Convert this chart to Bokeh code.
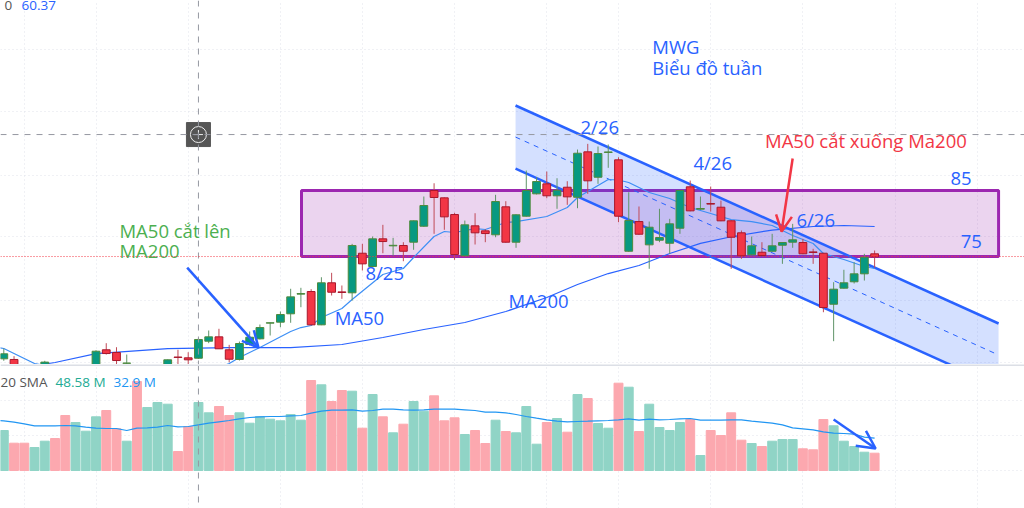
from bokeh.plotting import figure
from bokeh.layouts import column
from bokeh.models import ColumnDataSource, FixedTicker, Span, Arrow, OpenHead, Range1d
from bokeh.core.properties import value
from bokeh.embed import file_html
from bokeh.resources import INLINE

nan = float("nan")
FONT = "Open Sans"

# weekly candles, bar 0..85; nan = below the visible pane
opens = [59.5,59.4,nan,nan,57.8,nan,nan,nan,nan,58.5,60.87,60.46,58.83,nan,nan,nan,58.3,59.77,59.65,59.59,
 62.17,62.83,60.87,59.4,61.67,62.53,64.91,65.05,66.32,69.30,69.7,64.65,71.02,69.64,69.5,75.5,73.49,77.68,76.62,76.67,
 77.17,79.59,85,83.89,81.36,75.11,79.65,78.89,78.29,82.53,77.17,81.11,84.5,86.01,84.2,85.5,83.98,90.86,87.01,90.76,
 89.65,75.8,80.3,76.77,77.47,77.01,79.29,85.56,82.18,83.03,82.47,80.41,78.59,75.26,75.65,75.8,76.71,77.17,77.12,75.7,
 75.5,67.77,70.2,71.17,72.38,75.41]
highs = [61.06,59.9,nan,nan,59.2,nan,nan,nan,nan,60.8,61.87,61.26,60.15,nan,nan,nan,59.4,60.87,60.5,62.68,
 63.79,64.05,61.62,62.12,63.64,64.7,64.98,66.67,70.11,70.26,70.05,71.86,72.53,70.61,76.92,76.92,78.03,79.8,77.83,77.17,
 80.45,84.09,86.1,83.95,81.62,80.45,81.56,79.14,84.35,83.38,81.4,88.03,87.01,87.88,86.86,86.41,91.21,92.07,91.67,91.97,
 90.04,84.74,82.58,80.3,82.23,80.71,85.1,86.51,84.09,85.6,83.48,80.5,78.94,78.03,77.17,78.44,77.2,79.95,77.68,76.17,
 75.55,71.11,72.99,74.14,75.41,75.91]
lows = [59.2,58.0,nan,nan,57.5,nan,nan,nan,nan,58.3,60.15,58.7,58.7,nan,nan,nan,58,58.7,58.7,59.5,
 61.87,61.0,58.99,59.24,61.52,62.43,63.03,64.29,64.96,67.32,64.6,64.6,69.09,68.59,68.33,72.88,73.4,75.5,75.15,74.29,
 76.02,79.5,78.44,79.05,74.5,75.05,76.82,77.17,77.92,77.1,76.32,81.05,84.4,83.83,82.23,82.83,82.32,84.5,86.01,88.44,
 80.2,75.7,78.3,73.14,77.17,75.41,78.44,81.85,82.08,81.82,80.35,73.14,74.65,75.2,75.1,75.75,73.89,76.32,75.35,73.89,
 66.56,62.17,70.15,70.91,71.36,73.29]
closes = [60.26,58.33,nan,nan,59.0,nan,nan,nan,nan,60.65,60.3,59.24,58.85,nan,nan,nan,59.35,59.71,59.35,62.43,
 62.83,61.02,59.44,61.82,62.77,64.24,64.96,66.21,68.89,69.39,64.65,71.02,69.59,69.55,76.67,73.89,77.68,77.27,76.7,75.8,
 80.41,82.73,83.94,81.01,75.3,79.8,78.59,78.48,83.33,77.17,81.32,85,86.36,84.2,85.04,84.04,90.65,86.47,90.6,90.85,
 81.11,80.45,78.38,79.44,77.88,79.95,85,81.92,82.27,82.94,80.41,77.92,75.11,76.62,75.15,76.62,77.12,77.53,75.41,75.61,
 67.27,70.05,71.02,72.38,74.89,74.95]

ma50_bar = [-1,0,3,5,21,22,23,25,28,29,30,31,33,34,37,39,40,42,43,44,46,47,49,50,53,55,56,58,59,60,61,63,65,67,69,71,73,75,77,79,80,82,84,85]
ma50_val = [61.36,61.06,58.79,58.18,58.18,58.79,59.7,61.21,63.64,64.24,64.55,65.76,67.12,68.49,72.27,73.18,74.85,78.03,78.79,78.64,79.24,79.09,80.15,80.3,81.06,82.42,83.94,85.76,86.67,86.59,86.21,84.7,83.79,82.42,81.52,80.6,80.3,79.7,78.18,76.97,75.45,74.55,73.49,73.18]
ma200_bar = [4,5,9,16,22,28,33,37,41,45,49,53,56,59,62,65,68,71,75,79,82,85]
ma200_val = [58.72,58.94,60.3,61.06,61.21,61.21,61.67,62.73,63.94,65,66.67,68.79,70.76,72.42,73.64,75.45,77,78,79.01,79.55,79.7,79.55]

volume = [40,27.3,27.3,23,29.3,32,55,48,39.3,53.7,60,41.7,29.3,89,63,68,66.3,19,44,68,
 57.7,64,55,57.7,47.3,53.7,51.3,49.7,56,50.3,90,85.7,69,80,79.3,42.3,76,53.7,37.7,46.3,
 69,59.3,74.7,49.7,52.7,36,40,27,50.3,39,37.7,64,26.3,48,52,38.3,76,72,47,42.3,
 87.3,83.3,39,66.3,43,40,48,51,15,40,35,57.7,30.3,27,24,29.3,31,31,21.7,20.7,
 51,44.7,29.3,24,18.3,17.3]
vol_dir = "grrggrrgggrrgrgggrrggrrgggggggrgrrgrgrgrggrrrgrrgrgggrgrgrggrgrggggrgrrrrgrgggrrrggggr"
vol_sma_bar = list(range(-1, 86))
vol_sma = [50.3,49.7,48.3,46.7,44.7,44.7,44.7,45,44.7,43.3,42.3,42,42,40,42.3,42.7,43.3,45,43.7,44,45.7,
 47.3,48.7,50,51.7,53,53.7,54,54,54.7,55,57.3,59.3,60.3,60.3,60.7,59.3,60,61.3,61.3,60.7,
 60.3,60.7,61.3,61.3,61.3,60.7,60,58.3,58.3,57.7,56,54,52.3,50.7,49.3,48.7,49,49.3,49.7,50,
 50.7,51.7,50.3,51.3,50.7,51,51.7,52,50.3,50.3,50.3,50.7,50.7,49.3,48.3,47.3,45.7,42.7,41.7,40.7,
 38.7,37.3,37,36.3,33.3,32.3]

grid_bars = [2,9,18,27,35,44,53,60,69,78,87,95]
grid_prices = [106.4,97.0,87.3,78.0,68.4,58.9]
grid_vol = [0,35,70]

label_text = ["MWG","Biểu đồ tuần","MA50 cắt lên","MA200","MA50 cắt xuống Ma200","8/25","MA50","MA200","2/26","4/26","6/26","85","75"]
label_x = [63.3,63.3,11.29,11.29,74.3,35.3,32.3,49.26,56.29,67.32,77.37,92.4,93.4]
label_y = [106.8,103.7,78.94,75.9,92.57,72.57,65.75,68.33,94.75,89.29,80.65,86.87,77.32]
label_color = ["#2962ff","#2962ff","#4caf50","#4caf50","#f23645"]+["#2962ff"]*8

header_text = ["0", "60.37"]
header_x = [0.07, 1.73]
header_y = [113.03, 113.03]
header_color = ["#555555", "#2962ff"]

zone_left, zone_right, zone_top, zone_bottom = 29.06, 97.1, 85, 75
chan_x = [49.95, 97.1]
chan_upper = [97.88, 64.85]
chan_mid = [93.1, 60.08]
chan_lower = [88.33, 55.3]

GREEN, RED = "#089981", "#f23645"
GREEN_EDGE, RED_EDGE = "#4f8a3c", "#a8182c"
GRID = "#e0e3eb"
XR = (-0.322, 99.63)

def base(h, yr):
    f = figure(width=1024, height=h, x_range=Range1d(*XR), y_range=Range1d(*yr),
               output_backend="svg", toolbar_location=None, min_border=0,
               outline_line_color=None, background_fill_color="white")
    f.xaxis.visible = False
    f.yaxis.visible = False
    for g in f.xgrid:
        g.ticker = FixedTicker(ticks=grid_bars)
        g.grid_line_color = GRID
        g.grid_line_dash = "1 3"
    return f

p = base(364, (58.64, 113.79))
p.ygrid[0].ticker = FixedTicker(ticks=grid_prices)
p.ygrid[0].grid_line_color = GRID
p.ygrid[0].grid_line_dash = "1 3"

p.add_layout(Span(location=93.48, dimension="width", line_color="#9598a1", line_dash="6 6", line_width=1))
p.add_layout(Span(location=19, dimension="height", line_color="#9598a1", line_dash="6 6", line_width=1))
p.add_layout(Span(location=75, dimension="width", line_color=RED, line_dash="1 2", line_width=1))

# purple zone
p.quad(left=[zone_left], right=[zone_right], top=[zone_top], bottom=[zone_bottom],
       fill_color="#9c27b0", fill_alpha=0.2, line_color="#9c27b0", line_width=3)

# channel
p.varea(x=chan_x, y1=chan_lower, y2=chan_upper, fill_color="#2962ff", fill_alpha=0.2)
p.line(chan_x, chan_upper, line_color="#2962ff", line_width=2.5)
p.line(chan_x, chan_lower, line_color="#2962ff", line_width=2.5)
p.line(chan_x, chan_mid, line_color="#2962ff", line_width=1, line_dash="5 5")

# moving averages
p.line(ma50_bar, ma50_val, line_color="#3d8ff5", line_width=1.2)
p.line(ma200_bar, ma200_val, line_color="#2962ff", line_width=1.2)

# candles
bars = list(range(len(opens)))
up = [c >= o for o, c in zip(opens, closes)]
src = ColumnDataSource(dict(
    x=bars, o=opens, h=highs, l=lows, c=closes,
    fill=[GREEN if u else RED for u in up],
    edge=[GREEN_EDGE if u else RED_EDGE for u in up],
    wick=["#5f9468" if u else "#c04a57" for u in up]))
p.segment("x", "h", "x", "l", color="wick", line_width=1, source=src)
p.vbar("x", 0.76, "o", "c", fill_color="fill", line_color="edge", line_width=1, source=src)

# annotations
p.add_layout(Arrow(end=OpenHead(size=16, line_color="#2962ff", line_width=2.5),
                   x_start=17.9, y_start=73.33, x_end=24.86, y_end=61.21,
                   line_color="#2962ff", line_width=2.5))
p.add_layout(Arrow(end=OpenHead(size=16, line_color=RED, line_width=2.5),
                   x_start=77, y_start=89.85, x_end=75.92, y_end=78.79,
                   line_color=RED, line_width=2.5))

p.text(label_x, label_y, text=label_text, text_color=label_color, text_font=value(FONT),
       text_font_size="18.5px", text_baseline="middle", text_align="left")
p.text(header_x, header_y, text=header_text, text_color=header_color, text_font=value(FONT),
       text_font_size="13.5px", text_baseline="alphabetic", text_align="left")

# crosshair marker
p.rect([19], [93.48], width=24, height=24, width_units="screen", height_units="screen",
       fill_color="#555555", line_color="#555555")
p.scatter([19], [93.48], marker="circle", size=16, fill_alpha=0, line_color="#eeeeee", line_width=1)
p.scatter([19], [93.48], marker="cross", size=9, line_color="#eeeeee", line_width=1)

# volume pane
v = base(144, (-38, 106))
v.ygrid[0].ticker = FixedTicker(ticks=grid_vol)
v.ygrid[0].grid_line_color = GRID
v.ygrid[0].grid_line_dash = "1 3"
v.add_layout(Span(location=19, dimension="height", line_color="#9598a1", line_dash="6 6", line_width=1))
v.add_layout(Span(location=105.5, dimension="width", line_color="#dcdfe6", line_width=2))
v.vbar(x=list(range(len(volume))), width=0.87, bottom=0, top=volume,
       color=["#90d4c6" if d == "g" else "#fca8af" for d in vol_dir])
v.line(vol_sma_bar, vol_sma, line_color="#2196f3", line_width=1.2)
v.add_layout(Arrow(end=OpenHead(size=18, line_color="#2962ff", line_width=2.5),
                   x_start=81, y_start=51, x_end=85.1, y_end=22,
                   line_color="#2962ff", line_width=2.5))
v.text([-0.32, 5.05, 10.7], [89, 89, 89], text=["20 SMA", "48.58 M", "32.9 M"],
       text_color=["#555555", "#22ab94", "#2196f3"], text_font=value(FONT),
       text_font_size="13.5px", text_baseline="middle", text_align="left")

layout = column(p, v, spacing=0)
open("out.html", "w").write(file_html(layout, INLINE))
